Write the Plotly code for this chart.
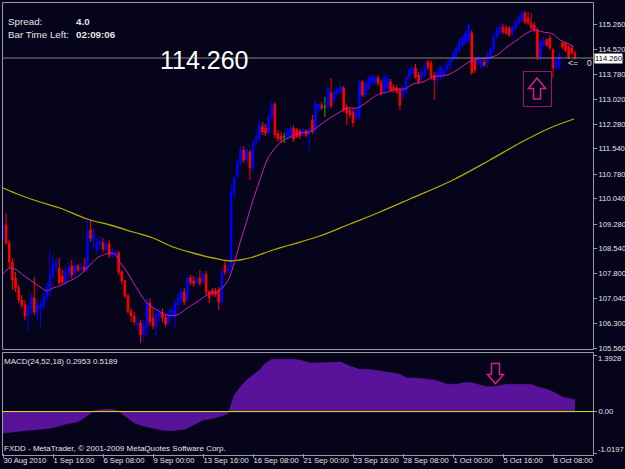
import plotly.graph_objects as go

# ---------------- data ----------------
open_ = [108.86, 109.25, 108.71, 108.14, 107.66, 107.36, 107.00, 106.85, 106.52, 106.76,
         107.06, 106.64, 106.76, 106.82, 107.09, 107.30, 107.72, 108.02, 107.96, 107.72,
         107.54, 107.81, 108.02, 107.78, 108.02, 107.93, 107.99, 107.90, 109.10, 108.80,
         108.50, 108.68, 108.71, 108.53, 108.68, 108.32, 108.38, 108.41, 107.84, 107.57,
         107.12, 106.67, 106.52, 106.25, 106.31, 105.95, 106.19, 106.91, 106.46, 106.22,
         106.52, 106.64, 106.46, 106.31, 106.58, 106.46, 106.85, 107.00, 107.24, 107.00,
         107.66, 107.57, 107.51, 107.66, 107.54, 107.78, 107.24, 107.30, 107.27, 107.30,
         106.94, 108.05, 107.87, 107.99, 110.21, 110.72, 111.11, 111.50, 111.20, 111.44,
         110.96, 111.71, 111.83, 112.22, 112.16, 112.01, 112.49, 112.88, 111.98, 111.92,
         111.89, 111.89, 111.92, 112.16, 112.10, 112.07, 111.98, 112.07, 111.98, 112.40,
         112.10, 112.76, 112.85, 112.79, 112.79, 113.21, 113.00, 113.21, 113.24, 113.36,
         112.79, 112.70, 112.64, 112.49, 112.49, 113.54, 113.15, 113.36, 113.51, 113.54,
         113.66, 113.51, 113.24, 113.36, 113.54, 113.39, 113.36, 113.30, 113.15, 113.24,
         113.69, 113.81, 113.96, 113.75, 113.66, 113.75, 114.14, 114.11, 113.75, 113.69,
         113.69, 113.75, 113.90, 113.99, 114.20, 114.29, 114.50, 114.65, 114.71, 114.80,
         115.01, 114.20, 114.11, 113.99, 114.14, 114.11, 114.29, 114.50, 114.89, 115.01,
         115.19, 115.16, 115.16, 115.01, 115.16, 115.31, 115.40, 115.61, 115.46, 115.31,
         115.25, 115.10, 114.26, 114.65, 114.80, 114.86, 114.50, 113.99, 113.99, 114.71,
         114.71, 114.59, 114.56, 114.41]
high_ = [109.46, 109.61, 108.80, 108.26, 107.84, 107.45, 107.15, 107.00, 106.88, 107.21,
         107.69, 107.00, 107.00, 107.21, 107.51, 108.50, 108.35, 108.26, 108.26, 107.90,
         108.05, 108.14, 108.20, 108.14, 108.08, 108.14, 108.26, 109.46, 109.40, 109.16,
         108.86, 108.92, 108.86, 108.80, 108.80, 108.56, 108.50, 108.47, 107.90, 107.60,
         107.18, 106.76, 106.64, 106.46, 106.40, 106.40, 107.06, 107.06, 106.76, 106.67,
         106.76, 106.76, 106.55, 106.70, 106.82, 107.00, 107.21, 107.36, 107.36, 107.75,
         107.75, 107.72, 107.72, 107.90, 107.87, 107.87, 107.30, 107.36, 107.36, 107.39,
         107.96, 108.20, 108.05, 110.45, 110.75, 111.20, 111.62, 111.62, 111.56, 111.50,
         111.80, 112.04, 112.40, 112.34, 112.28, 112.61, 112.94, 112.94, 112.10, 112.04,
         112.01, 112.16, 112.25, 112.25, 112.16, 112.13, 112.16, 112.13, 112.19, 112.55,
         113.00, 112.91, 112.94, 113.09, 113.42, 113.66, 113.30, 113.36, 113.45, 113.42,
         112.88, 112.79, 112.76, 112.76, 113.60, 113.60, 113.57, 113.72, 113.78, 113.75,
         113.75, 113.60, 113.78, 113.75, 113.63, 113.48, 113.45, 113.36, 113.42, 113.75,
         113.96, 114.02, 114.08, 113.84, 113.96, 114.14, 114.20, 114.20, 113.84, 113.90,
         114.05, 113.96, 114.14, 114.29, 114.50, 114.65, 114.86, 114.95, 115.10, 115.31,
         115.10, 114.29, 114.35, 114.26, 114.26, 114.44, 114.59, 115.01, 115.19, 115.28,
         115.28, 115.25, 115.22, 115.25, 115.40, 115.55, 115.70, 115.67, 115.64, 115.61,
         115.34, 115.16, 114.80, 114.89, 114.86, 114.95, 114.56, 114.26, 114.44, 114.77,
         114.74, 114.65, 114.62, 114.50]
low_ = [108.80, 108.65, 107.96, 107.30, 107.24, 106.91, 106.76, 106.40, 106.10, 106.55,
        106.55, 106.40, 106.19, 106.70, 106.94, 107.09, 107.60, 107.84, 107.45, 107.45,
        107.45, 107.66, 107.66, 107.72, 107.84, 107.87, 107.84, 107.84, 108.74, 108.56,
        108.35, 108.50, 108.44, 108.47, 108.26, 108.26, 108.32, 107.75, 107.48, 107.06,
        106.58, 106.34, 106.25, 106.10, 105.71, 105.74, 105.95, 106.22, 106.13, 105.89,
        106.34, 106.34, 106.19, 106.25, 106.46, 106.16, 106.73, 106.85, 106.85, 107.00,
        107.45, 107.39, 107.45, 107.42, 107.48, 107.15, 106.91, 107.12, 107.09, 106.70,
        106.85, 107.75, 107.78, 107.90, 110.06, 110.66, 111.05, 111.11, 111.14, 110.60,
        110.84, 111.65, 111.77, 111.95, 111.92, 111.95, 112.43, 111.86, 111.74, 111.71,
        111.71, 111.83, 111.86, 111.74, 111.86, 111.83, 111.92, 111.89, 111.50, 111.98,
        112.01, 112.64, 112.70, 112.49, 112.73, 112.76, 112.91, 113.12, 113.18, 112.64,
        112.25, 112.46, 112.19, 112.40, 112.40, 113.09, 113.09, 113.30, 113.45, 113.48,
        113.42, 113.12, 113.15, 113.30, 113.24, 113.21, 113.18, 112.70, 113.00, 113.18,
        113.63, 113.75, 113.63, 113.48, 113.60, 113.69, 113.90, 113.60, 113.00, 113.45,
        113.60, 113.66, 113.84, 113.93, 114.14, 114.23, 114.44, 114.59, 114.65, 114.74,
        113.75, 113.81, 114.02, 113.90, 113.99, 113.96, 114.20, 114.44, 114.83, 114.95,
        114.98, 114.95, 114.89, 114.92, 115.10, 115.25, 115.34, 115.28, 115.25, 115.10,
        115.04, 114.20, 114.20, 114.59, 114.59, 114.50, 113.66, 113.90, 113.90, 114.53,
        114.44, 114.23, 114.35, 114.20]
close_ = [109.25, 108.71, 108.14, 107.60, 107.36, 107.00, 106.85, 106.52, 106.79, 107.06,
          106.64, 106.82, 106.85, 107.09, 107.39, 107.75, 108.05, 108.14, 107.51, 107.54,
          107.84, 107.96, 107.75, 108.02, 107.90, 107.99, 107.90, 109.04, 108.86, 108.98,
          108.74, 108.74, 108.53, 108.68, 108.35, 108.41, 108.44, 107.84, 107.57, 107.12,
          106.67, 106.52, 106.34, 106.31, 105.95, 106.25, 106.91, 106.34, 106.22, 106.58,
          106.64, 106.46, 106.28, 106.61, 106.70, 106.91, 107.06, 107.27, 106.94, 107.66,
          107.54, 107.48, 107.60, 107.51, 107.78, 107.24, 107.06, 107.21, 107.18, 106.94,
          107.84, 107.84, 107.96, 110.24, 110.66, 111.11, 111.50, 111.20, 111.50, 110.96,
          111.71, 111.89, 112.28, 112.04, 112.01, 112.49, 112.88, 111.95, 111.83, 111.80,
          111.89, 112.07, 112.16, 111.83, 111.89, 111.92, 112.10, 111.95, 112.10, 112.07,
          112.88, 112.85, 112.76, 112.79, 113.33, 112.82, 113.24, 113.30, 113.39, 112.70,
          112.61, 112.55, 112.31, 112.70, 113.54, 113.15, 113.48, 113.66, 113.69, 113.69,
          113.51, 113.21, 113.69, 113.66, 113.30, 113.30, 113.24, 112.85, 113.36, 113.66,
          113.90, 113.96, 113.69, 113.54, 113.84, 113.99, 113.99, 113.69, 113.60, 113.84,
          113.99, 113.90, 114.05, 114.20, 114.41, 114.56, 114.74, 114.86, 115.01, 115.25,
          113.81, 113.90, 114.29, 114.20, 114.05, 114.35, 114.50, 114.89, 115.10, 115.19,
          115.04, 115.01, 114.95, 115.19, 115.31, 115.46, 115.61, 115.34, 115.31, 115.16,
          115.10, 114.29, 114.74, 114.80, 114.65, 114.56, 113.96, 114.20, 114.35, 114.59,
          114.50, 114.29, 114.41, 114.26]

ma_fast_idx = [0, 2.2, 3.8, 6.4, 9.6, 11.8, 14.1, 16, 18.2, 20.5, 23.7, 26.9, 30.1, 32, 34.2,
               35.8, 37.4, 39.7, 41.6, 43.8, 46.1, 49.3, 52.5, 55.7, 58.9, 62.1, 65.3, 68.5,
               71.7, 73.6, 75.8, 78.1, 80, 82.2, 84.5, 86.1, 88.6, 91.8, 95, 98.2, 101.4,
               104.6, 107.8, 110.1, 113.3, 116.5, 119.7, 122.9, 126.1, 128.6, 131.2, 134.4,
               137.6, 142.1, 145.3, 148.5, 151.7, 154.9, 158.1, 161.3, 164.5, 167.7, 170.2,
               172.8, 176, 178.2, 180.5, 182.7]
ma_fast_val = [107.78, 107.96, 107.93, 107.75, 107.54, 107.39, 107.27, 107.36, 107.42, 107.54,
               107.69, 107.96, 108.26, 108.35, 108.41, 108.38, 108.14, 107.84, 107.54, 107.21,
               106.91, 106.70, 106.55, 106.55, 106.76, 106.94, 107.15, 107.24, 107.54, 107.99,
               108.71, 109.40, 110.00, 110.60, 111.20, 111.44, 111.71, 111.89, 112.01, 112.04,
               112.25, 112.46, 112.64, 112.76, 112.76, 112.94, 113.15, 113.24, 113.33, 113.33,
               113.48, 113.54, 113.69, 113.75, 113.90, 114.11, 114.23, 114.26, 114.35, 114.59,
               114.80, 115.01, 115.10, 115.04, 114.98, 114.80, 114.71, 114.59]

ma_slow_idx = [0, 5.4, 11.8, 18.2, 26.9, 34.2, 41.6, 48, 54.4, 60.8, 67.2, 72.6, 75.8, 80,
               86.4, 91.8, 101.4, 111, 120.6, 130.2, 144, 155.8, 165.4, 175, 182.7]
ma_slow_val = [110.36, 110.15, 109.94, 109.76, 109.43, 109.25, 109.04, 108.86, 108.59, 108.41,
               108.26, 108.17, 108.20, 108.29, 108.50, 108.65, 108.92, 109.28, 109.64, 110.03,
               110.60, 111.20, 111.71, 112.16, 112.43]

macd_idx = [0, 4, 10, 15, 18, 20, 24, 26, 28, 29, 32, 35, 37, 40, 42, 45, 48, 51, 54, 58,
            61, 64, 67, 70, 72, 73, 74, 76, 78, 80, 82, 84, 86, 90, 93, 95, 98, 101, 105,
            108, 111, 114, 117, 121, 124, 127, 129, 133, 138, 142, 145, 148, 150, 155, 158,
            161, 165, 169, 171, 174, 177, 179, 181, 183]
macd_val = [-0.53, -0.50, -0.46, -0.41, -0.36, -0.31, -0.25, -0.16, -0.04, 0.02, 0.055, 0.055,
            0.01, -0.17, -0.28, -0.36, -0.41, -0.46, -0.47, -0.44, -0.33, -0.21, -0.17, -0.11,
            -0.05, 0.16, 0.41, 0.61, 0.78, 0.90, 1.02, 1.19, 1.29, 1.29, 1.29, 1.27, 1.20, 1.20,
            1.22, 1.22, 1.12, 1.04, 1.04, 1.00, 0.96, 0.92, 0.83, 0.82, 0.78, 0.68, 0.67, 0.72,
            0.71, 0.61, 0.63, 0.67, 0.67, 0.67, 0.61, 0.55, 0.45, 0.36, 0.32, 0.2953]

date_tick_idx = [0, 16, 32, 48, 64, 80, 96, 112, 128, 144, 160, 176]
date_tick_text = ["30 Aug 2010", "1 Sep 16:00", "6 Sep 08:00", "9 Sep 00:00", "13 Sep 16:00",
                  "16 Sep 08:00", "21 Sep 00:00", "23 Sep 16:00", "28 Sep 08:00",
                  "1 Oct 00:00", "5 Oct 16:00", "8 Oct 08:00"]
price_tick_vals = [115.26, 114.52, 113.78, 113.02, 112.28, 111.54, 110.78, 110.04, 109.28,
                   108.54, 107.80, 107.04, 106.30, 105.56]
price_tick_text = ["115.260", "114.520", "113.780", "113.020", "112.280", "111.540", "110.780",
                   "110.040", "109.280", "108.540", "107.800", "107.040", "106.300", "105.560"]
macd_tick_vals = [1.3928, 0.0, -1.0197]
macd_tick_text = ["1.3928", "0.00", "-1.0197"]
last_price = 114.26
price_range = [105.53, 115.91]
macd_range = [-1.0197, 1.3928]
x_range = [-0.32, 188.8]

# ---------------- styling / layout helpers ----------------
W, H = 625, 469
BG = "#05041a"
FRAME = "#9c9c9c"
TXT = "#e4e4e4"
FONT = "Liberation Sans, Arial"
TICK = 7.6


def px(x):
    return x / W


def py(y):
    return 1 - y / H


idx = list(range(len(close_)))
normal = [i for i in idx if open_[i] != close_[i]]
doji = [i for i in idx if open_[i] == close_[i]]

fig = go.Figure()
fig.add_trace(go.Candlestick(
    x=normal, open=[open_[i] for i in normal], high=[high_[i] for i in normal],
    low=[low_[i] for i in normal], close=[close_[i] for i in normal],
    increasing=dict(line=dict(color="#0000ff", width=1), fillcolor="#0000ff"),
    decreasing=dict(line=dict(color="#ff0000", width=1), fillcolor="#ff0000"),
    whiskerwidth=0, xaxis="x", yaxis="y", hoverinfo="skip", showlegend=False))
fig.add_trace(go.Candlestick(
    x=doji, open=[open_[i] for i in doji], high=[high_[i] for i in doji],
    low=[low_[i] for i in doji], close=[close_[i] for i in doji],
    increasing=dict(line=dict(color="#00b400", width=1), fillcolor="#00b400"),
    decreasing=dict(line=dict(color="#00b400", width=1), fillcolor="#00b400"),
    whiskerwidth=0, xaxis="x", yaxis="y", hoverinfo="skip", showlegend=False))
fig.add_trace(go.Scatter(x=ma_slow_idx, y=ma_slow_val, mode="lines",
                         line=dict(color="#b4ac00", width=1.3, shape="spline"),
                         xaxis="x", yaxis="y", hoverinfo="skip", showlegend=False))
fig.add_trace(go.Scatter(x=ma_fast_idx, y=ma_fast_val, mode="lines",
                         line=dict(color="#c81eb4", width=1, shape="spline"),
                         xaxis="x", yaxis="y", hoverinfo="skip", showlegend=False))
fig.add_trace(go.Scatter(x=macd_idx, y=macd_val, mode="lines", fill="tozeroy",
                         fillcolor="#58139a", line=dict(color="#58139a", width=0.5),
                         xaxis="x2", yaxis="y2", hoverinfo="skip", showlegend=False))

axis_common = dict(showgrid=False, zeroline=False, showline=False, automargin=False)
# top and bottom MACD scale labels are drawn as annotations nudged inside the panel
macd_tick_labels = ["" if v != 0 else t for v, t in zip(macd_tick_vals, macd_tick_text)]
fig.update_layout(
    width=W, height=H, margin=dict(l=0, r=0, t=0, b=0, autoexpand=False),
    paper_bgcolor=BG, plot_bgcolor=BG, showlegend=False,
    font=dict(family=FONT, color=TXT, size=9),
    xaxis=dict(domain=[px(2), px(593)], range=x_range, anchor="y", showticklabels=False,
               ticks="", rangeslider=dict(visible=False), **axis_common),
    xaxis2=dict(domain=[px(2), px(593)], range=x_range, anchor="y2", matches="x",
                tickmode="array", tickvals=date_tick_idx, ticktext=date_tick_text,
                ticks="outside", ticklen=4, tickcolor=FRAME, tickwidth=1, tickangle=0,
                ticklabelposition="outside right",
                tickfont=dict(family=FONT, size=TICK, color=TXT),
                rangeslider=dict(visible=False), **axis_common),
    yaxis=dict(domain=[py(349), py(3)], range=price_range, anchor="x", side="right",
               tickmode="array", tickvals=price_tick_vals, ticktext=price_tick_text,
               ticks="outside", ticklen=3, tickcolor=FRAME, tickwidth=1,
               tickfont=dict(family=FONT, size=TICK, color=TXT), **axis_common),
    yaxis2=dict(domain=[py(453), py(355)], range=macd_range, anchor="x2", side="right",
                tickmode="array", tickvals=macd_tick_vals, ticktext=macd_tick_labels,
                ticks="outside", ticklen=3, tickcolor=FRAME, tickwidth=1,
                tickfont=dict(family=FONT, size=TICK, color=TXT), **axis_common),
)

shapes = []
# panel frames
shapes.append(dict(type="rect", xref="paper", yref="paper", x0=px(2.5), x1=px(593.5),
                   y0=py(349.5), y1=py(2.5), line=dict(color=FRAME, width=1)))
shapes.append(dict(type="rect", xref="paper", yref="paper", x0=px(2.5), x1=px(593.5),
                   y0=py(455.5), y1=py(352.5), line=dict(color=FRAME, width=1)))
# current price line
shapes.append(dict(type="line", xref="paper", yref="y", x0=px(2.5), x1=px(593.5),
                   y0=last_price, y1=last_price, line=dict(color="#858578", width=1)))
# MACD zero level
shapes.append(dict(type="line", xref="paper", yref="y2", x0=px(2.5), x1=px(593.5),
                   y0=0, y1=0, line=dict(color="#e6e600", width=1)))


def path(points):
    s = "M " + " L ".join(f"{px(x):.5f},{py(y):.5f}" for x, y in points) + " Z"
    return s


ARROW = "#d0208c"
# box with up arrow
shapes.append(dict(type="rect", xref="paper", yref="paper", x0=px(523.5), x1=px(551.5),
                   y0=py(106.5), y1=py(71.5), line=dict(color="#a8105f", width=1)))
shapes.append(dict(type="path", xref="paper", yref="paper",
                   path=path([(537, 78), (545.5, 88.5), (540.5, 88.5), (540.5, 99),
                              (533.5, 99), (533.5, 88.5), (528.5, 88.5)]),
                   line=dict(color=ARROW, width=1.5)))
# down arrow in MACD panel
shapes.append(dict(type="path", xref="paper", yref="paper",
                   path=path([(491.5, 363.5), (499.5, 363.5), (499.5, 374.5), (503.5, 374.5),
                              (495.5, 383.5), (487.5, 374.5), (491.5, 374.5)]),
                   line=dict(color=ARROW, width=1.5)))
fig.update_layout(shapes=shapes)

ann = []


def text(x, y, s, size, color=TXT, family=FONT, xanchor="left", **kw):
    ann.append(dict(x=px(x), y=py(y), xref="paper", yref="paper", text=s, showarrow=False,
                    xanchor=xanchor, yanchor="middle", font=dict(family=family, size=size,
                                                                 color=color), **kw))


text(6, 21, "Spread:", 9.8)
text(74, 21, "<b>4.0</b>", 9.8)
text(6, 34.5, "Bar Time Left:", 9.8)
text(74, 34.5, "<b>02:09:06</b>", 9.8)
text(204, 60, "114.260", 25, color="#ffffff", xanchor="center")
text(566, 63, "<=", 8.5)
text(585, 63, "0", 8.5)
text(2, 361, "MACD(24,52,18) 0.2953 0.5189", 8)
text(2, 448, "FXDD - MetaTrader, © 2001-2009 MetaQuotes Software Corp.", 8)
# last price box on the price scale
ann.append(dict(x=px(594), y=last_price, xref="paper", yref="y", text="114.260",
                showarrow=False, xanchor="left", yanchor="middle", bgcolor="#ffffff",
                borderpad=0, font=dict(family=FONT, size=TICK, color="#000000")))
# MACD scale end labels, nudged inward like the MetaTrader scale
for v, t, shift in [(macd_tick_vals[0], macd_tick_text[0], -3),
                    (macd_tick_vals[2], macd_tick_text[2], 4)]:
    ann.append(dict(x=px(597), y=v, xref="paper", yref="y2", text=t, showarrow=False,
                    xanchor="left", yanchor="middle", yshift=shift, borderpad=0,
                    font=dict(family=FONT, size=TICK, color=TXT)))
fig.update_layout(annotations=ann)

fig.write_html("out.html")
